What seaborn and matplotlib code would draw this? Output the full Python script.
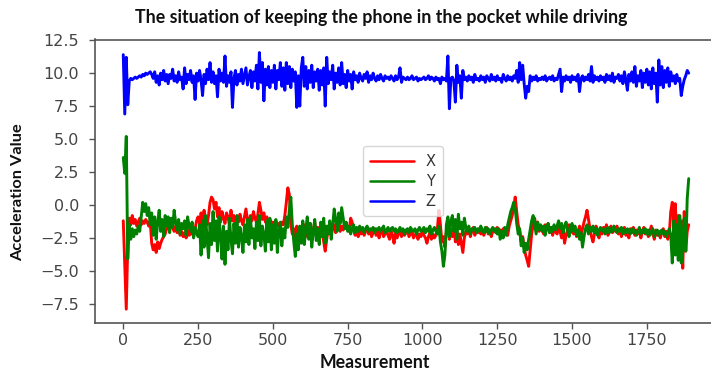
import numpy as np
import pandas as pd
import matplotlib
matplotlib.use("Agg")
import matplotlib.pyplot as plt
import seaborn as sns

# ---- data (one reading every 5 measurements) ----
step = 5
x_vals = [
    -1.2, -4.5, -7.9, -3.0, -1.0, -1.5, -0.8, -1.4, -1.1, -1.6,
    -1.3, -1.0, -1.5, -1.2, -1.4, -1.1, -1.3, -1.6, -1.2, -2.9,
    -3.4, -3.0, -3.6, -2.8, -3.3, -2.9, -2.6, -2.4, -2.2, -1.8,
    -1.5, -1.9, -1.2, -1.7, -2.0, -1.6, -2.1, -1.8, -2.3, -2.0,
    -2.4, -2.1, -2.5, -1.9, -2.3, -2.2, -2.0, -2.4, -1.8, -1.2,
    -0.9, -1.4, -0.6, -1.2, -0.4, -1.0, -1.5, -0.8, 0.2, 0.6,
    0.4, -0.3, 0.2, -0.9, -0.2, -1.3, -0.5, -1.0, -1.4, -0.6,
    -0.9, -1.5, -0.4, -1.2, -0.8, -1.4, -1.0, -1.3, -0.7, -1.2,
    -1.5, -0.9, -0.3, -1.1, -1.4, -0.8, -1.2, -0.5, -1.0, -1.3,
    -0.7, 0.2, -0.4, -1.1, -0.6, -1.3, -0.9, -1.5, -1.1, -1.4,
    -1.3, -1.5, -1.2, -1.6, -1.4, -1.7, -1.3, -1.5, -0.8, 0.2,
    1.3, 0.8, -1.5, -2.2, -1.8, -2.4, -1.6, -2.0, -2.6, -1.9,
    -2.2, -1.5, -2.4, -1.8, -2.1, -1.4, -2.6, -1.9, -1.3, -2.3,
    -1.7, -2.5, -1.4, -2.0, -2.8, -3.5, -2.6, -1.8, -2.2, -1.6,
    -1.9, -1.5, -2.1, -1.7, -1.4, -2.0, -1.6, -1.9, -1.5, -1.8,
    -1.6, -2.0, -1.0, -1.3, -1.9, -2.3, -1.8, -2.4, -2.0, -2.2,
    -1.8, -2.3, -2.0, -1.7, -2.2, -1.9, -2.4, -2.1, -1.8, -2.3,
    -2.0, -2.5, -2.1, -1.8, -2.4, -2.2, -1.9, -2.3, -2.6, -2.0,
    -2.3, -2.9, -2.1, -2.5, -2.2, -1.9, -2.4, -2.0, -2.3, -2.1,
    -1.9, -2.4, -2.2, -2.0, -2.5, -2.3, -2.1, -2.6, -2.2, -2.4,
    -2.0, -2.3, -2.5, -2.9, -2.4, -2.1, -2.6, -2.2, -2.5, -2.3,
    -1.8, -0.4, -1.5, -2.8, -2.4, -3.2, -2.0, -1.2, -2.6, -1.8,
    -2.4, -1.5, -2.8, -2.0, -3.0, -2.2, -2.9, -3.6, -2.5, -2.0,
    -2.2, -1.8, -2.4, -2.0, -1.7, -2.3, -1.9, -2.1, -1.8, -2.2,
    -1.9, -2.3, -2.0, -1.7, -2.2, -1.9, -2.4, -2.0, -1.8, -2.1,
    -1.7, -2.2, -1.9, -2.0, -1.8, -2.1, -1.9, -2.3, -1.6, -1.2,
    -0.8, -0.2, 0.6, -0.5, -1.5, -2.0, -2.8, -2.4, -3.2, -3.8,
    -4.2, -4.65, -3.4, -2.2, -1.5, -1.0, -1.8, -1.3, -2.0, -1.6,
    -1.8, -2.2, -1.5, -1.9, -1.4, -2.1, -1.7, -2.3, -1.9, -2.0,
    -2.2, -1.6, -2.0, -2.5, -1.8, -2.9, -2.3, -1.9, -1.5, -2.1,
    -1.7, -2.2, -1.9, -2.4, -2.0, -1.6, -2.3, -1.8, -1.3, -0.9,
    -0.4, -1.1, -1.8, -2.4, -2.8, -2.2, -1.6, -2.0, -2.5, -1.9,
    -2.2, -1.7, -2.0, -1.5, -2.3, -1.9, -1.6, -2.1, -1.8, -2.0,
    -1.6, -2.2, -1.8, -2.4, -1.9, -1.7, -2.3, -2.0, -2.5, -1.8,
    -2.1, -1.7, -2.3, -1.9, -2.2, -1.8, -2.5, -2.0, -1.7, -2.2,
    -1.9, -2.4, -2.0, -1.6, -2.2, -2.6, -1.9, -2.3, -2.0, -2.5,
    -2.1, -1.8, -2.4, -2.0, -2.6, -2.2, -0.5, 0.2, -1.2, 0.1,
    -2.5, -0.8, -3.8, -1.2, -4.8, -0.5, -3.5, -2.0, -1.5,
]
y_vals = [
    3.6, 2.4, 5.2, -4.1, -1.5, -2.6, -1.8, -2.4, -1.9, -2.2,
    -1.6, -2.0, -0.9, 0.2, -0.5, 0.1, -0.8, -0.2, -1.5, -0.6,
    -2.3, -0.9, -2.6, -1.3, -0.4, -2.0, -1.1, -2.4, -0.8, -1.6,
    -0.9, -2.1, -1.0, -1.7, -0.4, -1.3, -1.9, -1.1, -2.2, -1.4,
    -1.8, -1.2, -2.3, -0.9, -1.6, -2.0, -1.3, -2.5, -1.7, -2.1,
    -2.4, -1.5, -3.8, -1.2, -3.2, -0.8, -2.5, -4.0, -1.4, -3.0,
    -0.5, -2.7, -1.2, -3.5, -0.9, -2.2, -4.1, -1.6, -4.5, -2.0,
    -3.4, -1.0, -2.6, -3.7, -1.4, -2.9, -0.8, -3.2, -1.7, -2.4,
    -3.6, -1.5, -2.8, -1.1, -3.0, -0.9, -2.5, -1.8, -3.3, -1.3,
    -2.7, -0.8, -3.1, -1.6, -2.2, -3.5, -1.2, -2.8, -1.0, -3.4,
    -1.5, -2.9, -1.1, -3.6, -2.0, -1.3, -3.1, -1.8, -2.5, -0.9,
    -1.7, -0.4, 0.6, -1.5, -2.8, -3.9, -2.2, -3.4, -1.6, -2.9,
    -1.2, -3.0, -1.9, -0.9, -2.6, -1.4, -3.2, -2.0, -1.1, -2.7,
    -1.8, -3.0, -1.3, -2.4, -1.0, -2.9, -1.6, -2.2, -1.2, -2.6,
    -1.5, -0.3, -1.1, -2.0, -0.6, -1.4, -0.2, -1.0, -1.8, -1.3,
    -2.0, -1.6, -2.2, -1.8, -1.5, -2.1, -1.7, -2.0, -1.6, -1.9,
    -1.7, -2.1, -1.8, -1.6, -2.0, -1.8, -1.9, -1.7, -2.1, -1.8,
    -1.9, -1.7, -2.0, -1.8, -1.6, -2.1, -1.9, -1.7, -2.0, -1.8,
    -1.7, -2.0, -1.8, -2.1, -1.9, -1.7, -2.0, -1.8, -2.2, -1.9,
    -1.8, -2.1, -1.7, -1.9, -2.0, -1.8, -2.2, -1.9, -1.7, -2.0,
    -1.9, -1.7, -2.1, -1.8, -2.0, -1.6, -2.2, -1.9, -1.7, -2.0,
    -2.2, -1.6, -2.8, -3.5, -4.65, -3.8, -1.5, -0.9, -2.4, -1.2,
    -0.8, -2.0, -1.1, -2.6, -0.7, -1.8, -1.3, -2.3, -1.0, -1.7,
    -2.0, -1.6, -2.2, -1.8, -1.9, -1.7, -2.1, -1.8, -2.0, -1.6,
    -1.9, -2.1, -1.7, -2.0, -1.8, -2.2, -1.9, -1.7, -2.0, -1.8,
    -2.2, -1.8, -2.6, -2.0, -2.5, -1.7, -2.3, -1.5, -1.0, -0.5,
    -0.2, 0.2, -0.3, -1.4, -2.2, -1.8, -3.1, -2.5, -3.6, -2.9,
    -3.4, -2.6, -1.9, -1.2, -0.8, -1.5, -2.2, -1.3, -1.9, -1.5,
    -2.0, -1.6, -2.3, -1.8, -1.4, -2.1, -1.7, -2.0, -1.5, -1.9,
    -1.6, -1.2, -1.8, -1.4, -2.1, -1.6, -1.3, -1.9, -2.4, -1.7,
    -1.4, -2.0, -1.6, -2.3, -1.9, -2.6, -2.1, -3.2, -2.4, -1.8,
    -1.5, -2.2, -1.7, -2.0, -1.6, -2.1, -1.8, -2.3, -1.9, -1.7,
    -2.0, -1.8, -2.2, -1.9, -1.7, -2.1, -1.8, -2.0, -1.6, -1.9,
    -2.1, -1.8, -2.0, -1.7, -2.2, -1.9, -2.1, -1.8, -2.0, -2.2,
    -1.8, -2.1, -1.9, -2.3, -2.0, -1.7, -2.2, -1.9, -2.1, -1.8,
    -2.2, -1.9, -2.3, -2.0, -1.8, -2.4, -2.1, -1.9, -2.3, -2.0,
    -1.9, -2.2, -2.0, -2.4, -2.1, -1.8, -2.3, -4.4, -1.2, -3.8,
    -1.5, -4.2, -0.8, -4.4, -2.5, -1.0, -3.5, 0.5, 2.0,
]
z_vals = [
    11.4, 6.9, 11.2, 7.6, 9.4, 9.6, 9.5, 9.6, 9.7, 9.6,
    9.7, 9.8, 9.7, 9.9, 9.8, 10.0, 9.9, 10.0, 10.1, 9.9,
    9.6, 10.1, 9.3, 9.8, 9.1, 10.0, 9.5, 10.2, 9.4, 9.9,
    9.2, 9.9, 9.6, 10.3, 9.4, 9.8, 9.3, 10.1, 9.5, 9.7,
    8.8, 10.4, 9.2, 9.9, 9.5, 10.2, 9.3, 9.8, 8.0, 10.0,
    9.4, 10.2, 9.5, 8.3, 9.9, 9.2, 10.3, 9.5, 10.8, 9.3,
    10.1, 9.2, 9.8, 8.2, 10.3, 9.4, 10.0, 9.3, 11.3, 9.0,
    9.8, 9.3, 10.1, 7.4, 9.6, 10.2, 9.1, 9.9, 9.4, 10.3,
    9.2, 9.8, 10.4, 9.1, 9.7, 10.2, 8.9, 10.1, 9.4, 10.6,
    8.8, 11.56, 9.3, 10.8, 7.9, 10.3, 9.1, 10.5, 8.9, 10.2,
    9.3, 10.6, 8.8, 10.2, 9.5, 10.8, 9.0, 10.4, 8.7, 10.8,
    9.2, 10.5, 8.9, 10.3, 9.4, 10.1, 7.4, 9.8, 7.5, 10.4,
    11.2, 9.0, 10.5, 8.8, 10.2, 9.3, 10.6, 8.9, 10.1, 9.4,
    10.3, 8.7, 10.2, 9.1, 10.4, 7.5, 11.2, 9.2, 10.1, 9.5,
    10.6, 8.8, 10.0, 9.3, 10.4, 9.1, 10.8, 9.2, 9.9, 8.9,
    10.2, 9.4, 9.9, 8.8, 10.1, 9.5, 9.8, 9.3, 10.0, 9.6,
    9.4, 9.9, 9.6, 10.1, 9.3, 9.8, 9.5, 10.0, 9.6, 9.4,
    9.8, 9.5, 9.9, 9.6, 9.4, 9.8, 9.6, 9.7, 9.5, 9.8,
    9.6, 9.4, 9.8, 9.5, 9.7, 10.4, 9.3, 9.7, 9.6, 9.5,
    9.7, 9.5, 9.6, 9.8, 9.5, 9.6, 9.7, 9.4, 9.6, 9.5,
    9.6, 9.7, 9.5, 9.6, 9.8, 9.5, 9.7, 9.6, 9.4, 9.7,
    9.5, 9.6, 9.2, 9.7, 9.5, 9.6, 9.4, 11.3, 7.3, 9.6,
    9.7, 9.4, 7.8, 10.6, 9.3, 9.8, 8.1, 10.2, 9.5, 9.7,
    9.4, 9.8, 9.5, 9.7, 9.3, 9.9, 9.5, 9.6, 9.4, 9.8,
    9.5, 9.7, 9.3, 9.8, 9.6, 9.4, 9.9, 9.5, 9.7, 9.4,
    9.8, 9.5, 9.6, 9.3, 9.9, 9.6, 9.4, 9.8, 9.5, 9.7,
    9.4, 9.8, 9.6, 10.2, 9.3, 10.8, 9.5, 10.6, 9.2, 8.1,
    9.0, 8.6, 9.8, 9.4, 9.7, 9.5, 9.8, 9.4, 9.6, 9.5,
    9.7, 9.5, 9.8, 9.4, 9.6, 9.7, 9.5, 9.8, 9.4, 9.6,
    9.5, 9.9, 10.3, 8.6, 9.7, 9.4, 9.8, 9.5, 9.7, 9.3,
    9.8, 9.5, 9.7, 9.4, 9.9, 8.6, 9.6, 9.8, 9.4, 9.7,
    9.5, 9.9, 9.4, 10.5, 9.3, 9.8, 9.5, 9.7, 9.4, 9.8,
    9.5, 9.7, 9.3, 9.9, 9.5, 9.8, 9.4, 10.0, 9.3, 9.7,
    9.6, 9.9, 9.4, 9.8, 9.2, 10.1, 9.5, 8.7, 9.9, 9.4,
    10.1, 9.3, 10.5, 9.0, 9.8, 9.4, 10.2, 8.9, 10.0, 9.3,
    10.3, 9.1, 10.1, 8.8, 10.4, 9.2, 10.0, 7.8, 11.0, 9.1,
    10.5, 8.9, 10.2, 9.3, 10.4, 9.0, 10.1, 9.4, 9.8, 9.2,
    9.9, 9.4, 9.6, 8.3, 9.0, 9.5, 9.8, 10.2, 10.0,
]
series_names = ["X", "Y", "Z"]
series_colors = ["#ff0000", "#008000", "#0000ff"]
title_text = "The situation of keeping the phone in the pocket while driving"
x_label = "Measurement"
y_label = "Acceleration Value"
x_ticks = [0, 250, 500, 750, 1000, 1250, 1500, 1750]
y_ticks = [-7.5, -5.0, -2.5, 0.0, 2.5, 5.0, 7.5, 10.0, 12.5]

n = min(len(x_vals), len(y_vals), len(z_vals))
measurement = np.arange(n) * step
wide = pd.DataFrame({"Measurement": measurement,
                     "X": x_vals[:n], "Y": y_vals[:n], "Z": z_vals[:n]})
df = wide.melt(id_vars="Measurement", var_name="axis", value_name="value")

sns.set_theme(style="ticks")
plt.rcParams["font.family"] = ["DejaVu Sans"]

W, H = 711, 370
fig = plt.figure(figsize=(W / 100, H / 100), dpi=100)
fig.patch.set_facecolor("white")
ax_l, ax_r, ax_t, ax_b = 95, 717, 39.5, 323
ax = fig.add_axes([ax_l / W, 1 - ax_b / H, (ax_r - ax_l) / W, (ax_b - ax_t) / H])

sns.lineplot(data=df, x="Measurement", y="value", hue="axis",
             hue_order=series_names, palette=dict(zip(series_names, series_colors)),
             estimator=None, linewidth=2.1, legend=False, ax=ax)

ax.set_xlim(-0.05 * measurement[-1], 1.05 * measurement[-1])
ax.set_ylim(-8.95, 12.55)
ax.set_xticks(x_ticks)
ax.set_xticklabels([str(t) for t in x_ticks])
ax.set_yticks(y_ticks)
ax.set_yticklabels([f"{t:.1f}".replace("-", "\u2212") for t in y_ticks])
ax.tick_params(axis="both", labelsize=11.5, colors="#555555", labelcolor="#444444",
               length=4.5, width=1.0)
ax.tick_params(axis="x", pad=2.5)
ax.tick_params(axis="y", pad=7)
for sp in ax.spines.values():
    sp.set_color("#555555")
    sp.set_linewidth(1.2)
ax.set_xlabel("")
ax.set_ylabel("")

handles = ax.get_lines()[:3]
leg = ax.legend(handles, series_names, loc="center", bbox_to_anchor=(0.495, 0.5),
                fontsize=10.5, handlelength=3.0, labelspacing=0.35,
                frameon=True, fancybox=True, borderpad=0.5)
leg.get_frame().set_edgecolor("#cccccc")
for line in leg.get_lines():
    line.set_linewidth(1.8)
for t in leg.get_texts():
    t.set_color("#333333")

fig.text(381 / W, 1 - 17 / H, title_text, ha="center", va="center",
         fontsize=12.8, fontweight="bold", family=["Lato", "DejaVu Sans"], color="#111111")
fig.text(375 / W, 1 - 362 / H, x_label, ha="center", va="center",
         fontsize=12.8, fontweight="bold", family=["Lato", "DejaVu Sans"], color="#111111")
fig.text(18 / W, 1 - 192 / H, y_label, ha="center", va="center", rotation=90,
         fontsize=11.8, fontweight="bold", family=["Lato", "DejaVu Sans"], color="#111111")

fig.savefig("out.png", dpi=100)
